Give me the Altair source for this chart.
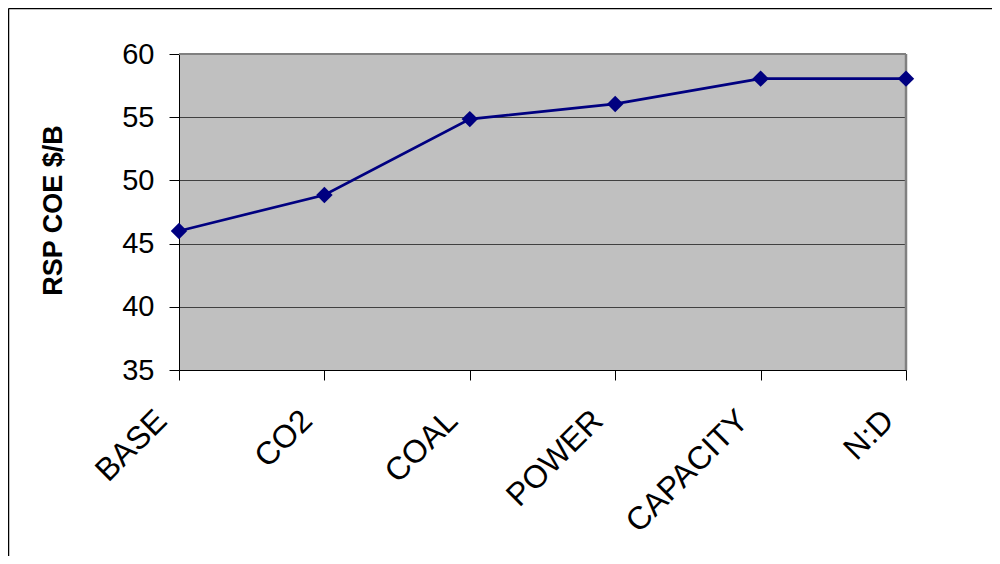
import altair as alt
import pandas as pd

categories = ["BASE", "CO2", "COAL", "POWER", "CAPACITY", "N:D"]
values = [46.0, 48.85, 54.85, 56.05, 58.05, 58.05]

df = pd.DataFrame({"scenario": categories, "coe": values})

W, H = 727, 316
FONT = "Liberation Sans"

x_enc = alt.X(
    "scenario:N",
    sort=categories,
    scale=alt.Scale(padding=0),
    axis=alt.Axis(
        title=None,
        labelAngle=-45,
        labelAlign="right",
        labelBaseline="middle",
        labelFontSize=32,
        labelFont=FONT,
        labelColor="black",
        labelPadding=35,
        labelOffset=-18,
        tickSize=10,
        tickColor="black",
        domainColor="black",
        grid=False,
    ),
)
y_enc = alt.Y(
    "coe:Q",
    scale=alt.Scale(domain=[35, 60], nice=False, zero=False),
    axis=alt.Axis(
        title="RSP COE $/B",
        titleFont=FONT,
        titleFontSize=27,
        titleFontWeight="bold",
        titleColor="black",
        titleX=-126,
        titleY=H / 2 - 2,
        titleAngle=-90,
        titleAlign="center",
        titleBaseline="middle",
        values=[35, 40, 45, 50, 55, 60],
        labelFontSize=29,
        labelFont=FONT,
        labelColor="black",
        labelPadding=15,
        tickSize=10,
        tickColor="black",
        domainColor="black",
        grid=True,
        gridColor="#404040",
        gridWidth=1,
    ),
)

base = alt.Chart(df)

line = base.mark_line(color="#000080", strokeWidth=2.7).encode(x=x_enc, y=y_enc)
points = base.mark_point(
    shape="diamond", filled=True, color="#000080", size=270, opacity=1
).encode(x=x_enc, y=y_enc)

frame_df = pd.DataFrame({"k": [0]})
top_border = alt.Chart(frame_df).mark_rule(color="#808080", strokeWidth=2).encode(
    x=alt.value(0), x2=alt.value("width"), y=alt.value(0)
)
right_border = alt.Chart(frame_df).mark_rule(color="#808080", strokeWidth=2.5).encode(
    x=alt.value("width"), y=alt.value(0), y2=alt.value("height")
)
outer_top = alt.Chart(frame_df).mark_rule(color="black", strokeWidth=1.5).encode(
    x=alt.value(-170.5), x2=alt.value(900), y=alt.value(-45.5)
)
outer_left = alt.Chart(frame_df).mark_rule(color="black", strokeWidth=1.5).encode(
    x=alt.value(-170.5), y=alt.value(-45.5), y2=alt.value(600)
)

chart = (
    alt.layer(outer_top, outer_left, top_border, right_border, line, points)
    .properties(
        width=W,
        height=H,
        autosize=alt.AutoSizeParams(type="none"),
        padding={"left": 171, "top": 46, "right": 86, "bottom": 186},
        background="white",
    )
    .configure_view(fill="#C0C0C0", stroke=None)
)

chart.save("out.html", embed_options={"renderer": "svg", "actions": False})
